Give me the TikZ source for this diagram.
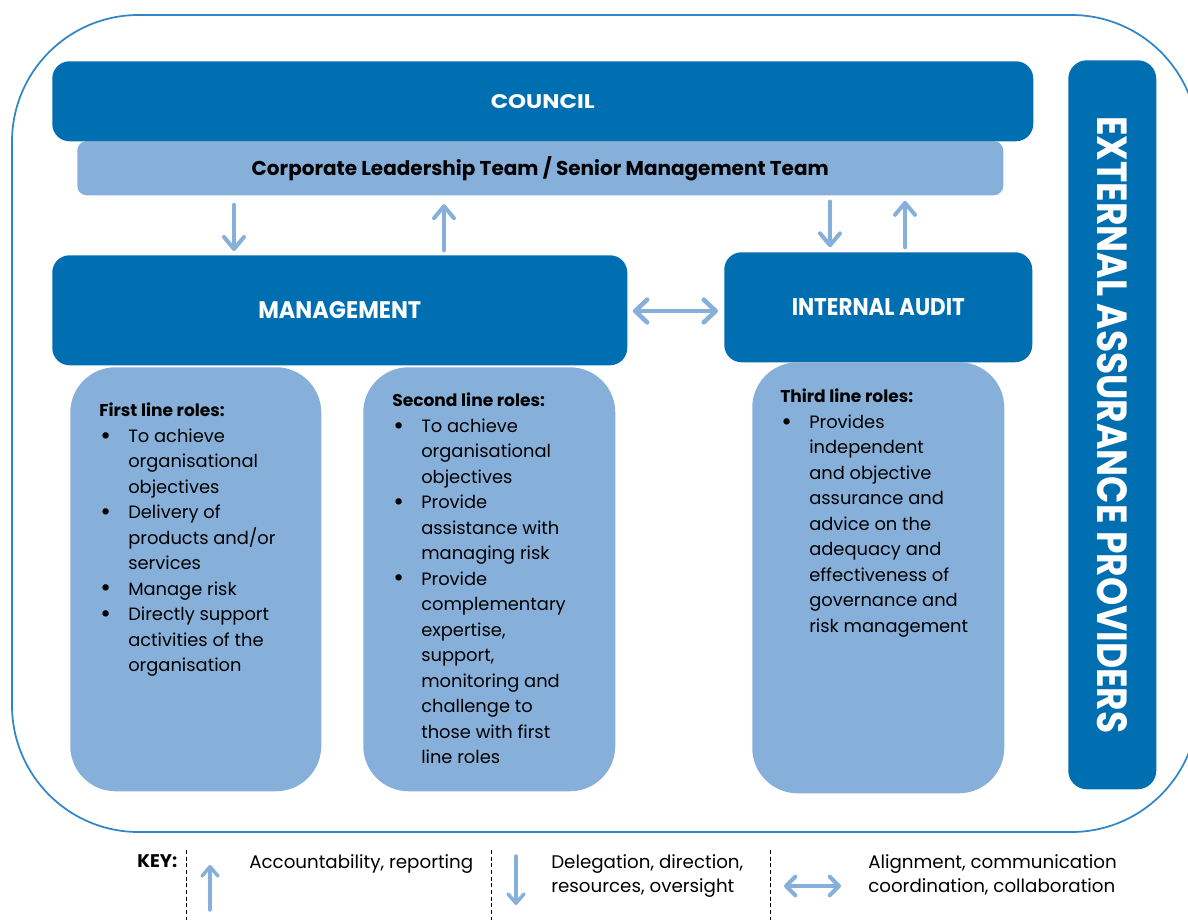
\documentclass[tikz,border=0pt]{standalone}
\usepackage{fontspec}
\setmainfont{Poppins}
\usetikzlibrary{arrows.meta}

\definecolor{deepblue}{RGB}{0,111,178}
\definecolor{paleblue}{RGB}{134,176,218}
\definecolor{rimblue}{RGB}{48,134,198}

% one unit of length in the picture is 0.75pt
\newcommand{\bul}{\makebox[21.75pt][l]{\hspace{0.8pt}\raisebox{-1.2pt}{\scalebox{1.45}{\textbullet}}}}
\newcommand{\ind}{\hspace*{21.75pt}}
\newcommand{\bodyfont}{\fontsize{13.4}{19.1}\selectfont}
\newcommand{\headfont}{\fontsize{12.8}{19.1}\selectfont\bfseries}
\newcommand{\keyfont}{\fontsize{13.7}{18}\selectfont}

\begin{document}
\begin{tikzpicture}[x=0.75pt,y=-0.75pt,
  darkbox/.style={fill=deepblue, draw=none, rounded corners=13pt, inner sep=0pt, anchor=north west, text=white},
  barbox/.style={fill=paleblue, draw=none, rounded corners=7pt, inner sep=0pt, anchor=north west},
  rolebox/.style={fill=paleblue, draw=none, rounded corners=34pt, inner sep=0pt, anchor=north west},
  roletext/.style={anchor=north west, align=left, inner sep=0pt, font=\bodyfont},
  flow/.style={draw=paleblue, line width=3pt, line cap=round,
    -{Straight Barb[length=9pt,width=15pt,line cap=round,line join=round]}},
  twoway/.style={draw=paleblue, line width=3.4pt, line cap=round,
    {Straight Barb[length=9pt,width=17pt,line cap=round,line join=round]}-{Straight Barb[length=9pt,width=17pt,line cap=round,line join=round]}},
  keyflow/.style={draw=paleblue, line width=2.6pt, line cap=round,
    -{Straight Barb[length=7pt,width=12pt,line cap=round,line join=round]}},
  keytwoway/.style={draw=paleblue, line width=3pt, line cap=round,
    {Straight Barb[length=7pt,width=14pt,line cap=round,line join=round]}-{Straight Barb[length=7pt,width=14pt,line cap=round,line join=round]}},
  keytext/.style={anchor=north west, align=left, inner sep=0pt, font=\keyfont},
  divider/.style={draw=black, line width=0.6pt, dash pattern=on 3pt off 2pt}
]
\clip (0,0) rectangle (1188,920);
\fill[white] (0,0) rectangle (1188,920);

% outer frame of the organisation
\draw[rimblue, line width=1.3pt, rounded corners=95pt] (12,15) rectangle (1198,832) ;

% governing bodies
\node[barbox, minimum width=694.5pt, minimum height=40.5pt, font=\fontsize{15}{17}\selectfont\bfseries]
  (clt) at (77,141) {\raisebox{-4pt}{Corporate Leadership Team / Senior Management Team}};
\node[darkbox, minimum width=735.75pt, minimum height=60pt] (council) at (52,61)
  {\resizebox{78pt}{10.5pt}{\bfseries COUNCIL}};

\node[darkbox, minimum width=431.25pt, minimum height=82.5pt] (mgmt) at (52,255)
  {\resizebox{122.25pt}{12.75pt}{\bfseries MANAGEMENT}};
\node[darkbox, minimum width=231pt, minimum height=82.5pt] (audit) at (724,252)
  {\resizebox{129.75pt}{12.75pt}{\bfseries INTERNAL AUDIT}};

\node[darkbox, rounded corners=14pt, minimum width=66pt, minimum height=546.75pt] (ext) at (1068,60)
  {\rotatebox{-90}{\resizebox{462.75pt}{22.5pt}{\bfseries EXTERNAL ASSURANCE PROVIDERS}}};

% role panels
\node[rolebox, minimum width=188.25pt, minimum height=318pt] (first) at (70,367) {};
\node[rolebox, minimum width=189pt, minimum height=318pt] (second) at (363,367) {};
\node[rolebox, minimum width=189pt, minimum height=323.25pt] (third) at (752,362) {};

\node[roletext] (firsttxt) at (99,403) {{\headfont First line roles:}\\
  \bul To achieve\\ \ind organisational\\ \ind objectives\\
  \bul Delivery of\\ \ind products and/or\\ \ind services\\
  \bul Manage risk\\
  \bul Directly support\\ \ind activities of the\\ \ind organisation};

\node[roletext] (secondtxt) at (392,393) {{\headfont Second line roles:}\\
  \bul To achieve\\ \ind organisational\\ \ind objectives\\
  \bul Provide\\ \ind assistance with\\ \ind managing risk\\
  \bul Provide\\ \ind complementary\\ \ind expertise,\\ \ind support,\\
  \ind monitoring and\\ \ind challenge to\\ \ind those with first\\ \ind line roles};

\node[roletext] (thirdtxt) at (780,389) {{\headfont Third line roles:}\\
  \bul Provides\\ \ind independent\\ \ind and objective\\ \ind assurance and\\
  \ind advice on the\\ \ind adequacy and\\ \ind effectiveness of\\
  \ind governance and\\ \ind risk management};

% reporting lines between the bodies
\coordinate (downM) at (234,0);
\coordinate (upM) at (444,0);
\coordinate (downA) at (830,0);
\coordinate (upA) at (905,0);
\draw[flow, shorten <=7pt, shorten >=3pt] (clt.south -| downM) -- (mgmt.north -| downM);
\draw[flow, shorten <=3.5pt, shorten >=6.5pt] (mgmt.north -| upM) -- (clt.south -| upM);
\draw[flow, shorten <=4.5pt, shorten >=3.5pt] (clt.south -| downA) -- (audit.north -| downA);
\draw[flow, shorten <=3.5pt, shorten >=4pt] (audit.north -| upA) -- (clt.south -| upA);
\coordinate (mid) at (0,311);
\draw[twoway, shorten <=4pt, shorten >=4.5pt] (mgmt.east |- mid) -- (audit.west |- mid);

% key
\node[anchor=north west, inner sep=0pt, font=\keyfont\bfseries] (keylbl) at (137,854) {KEY:};
\coordinate (d1top) at (186,850); \coordinate (d1bot) at (186,920);
\coordinate (d2top) at (491,850); \coordinate (d2bot) at (491,920);
\coordinate (d3top) at (770,850); \coordinate (d3bot) at (770,920);
\draw[divider] (d1top) -- (d1bot);
\draw[divider] (d2top) -- (d2bot);
\draw[divider] (d3top) -- (d3bot);

\coordinate (kupS) at (210,910); \coordinate (kupE) at (210,865);
\draw[keyflow] (kupS) -- (kupE);
\node[keytext] (kup) at (249,854) {Accountability, reporting};

\coordinate (kdnS) at (516,856); \coordinate (kdnE) at (516,905);
\draw[keyflow] (kdnS) -- (kdnE);
\node[keytext] (kdn) at (551,854) {Delegation, direction,\\ resources, oversight};

\coordinate (kbiS) at (784,886); \coordinate (kbiE) at (841,886);
\draw[keytwoway] (kbiS) -- (kbiE);
\node[keytext] (kbi) at (868,854) {Alignment, communication\\ coordination, collaboration};
\end{tikzpicture}
\end{document}
